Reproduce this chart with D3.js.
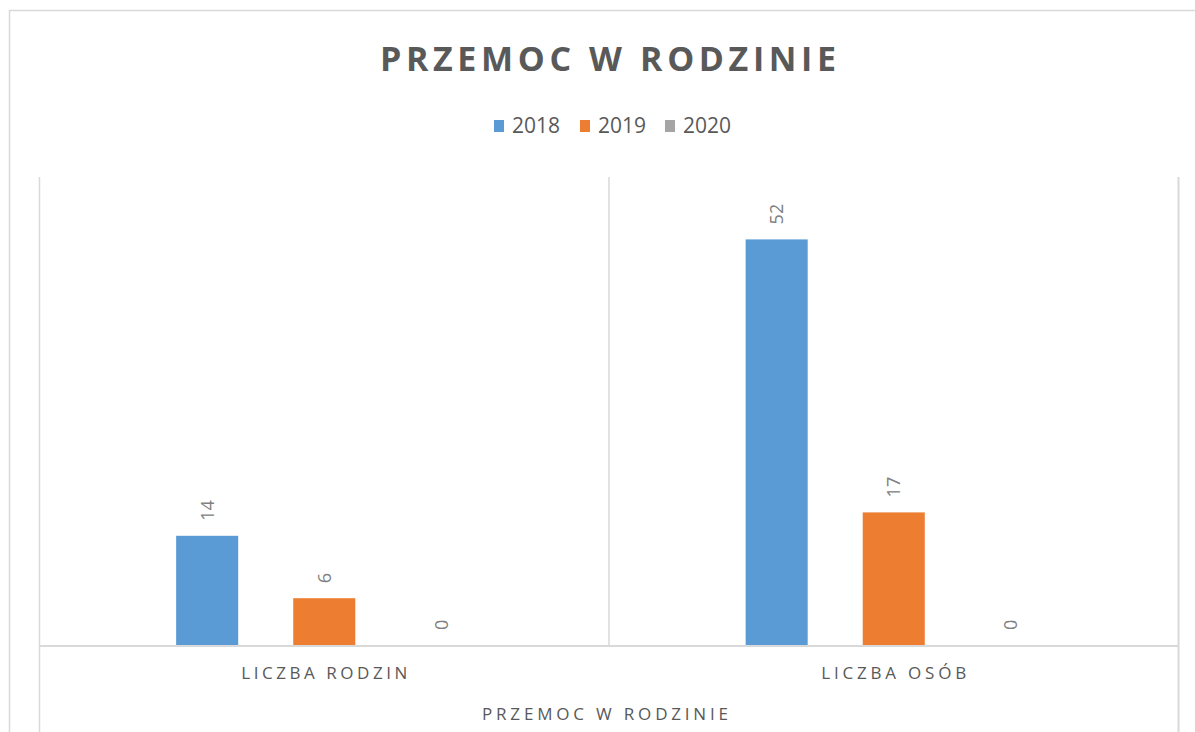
<!DOCTYPE html>
<html>
<head>
<meta charset="utf-8">
<script src="https://cdn.jsdelivr.net/npm/d3@7"></script>
<style>
  html, body { margin: 0; padding: 0; background: #fff; }
  svg { display: block; }
</style>
</head>
<body>
<svg id="chart" width="1195" height="732"></svg>
<script>
const chartTitle = "PRZEMOC W RODZINIE";
const axisTitle = "PRZEMOC W RODZINIE";
const categories = ["LICZBA RODZIN", "LICZBA OSÓB"];
const seriesNames = ["2018", "2019", "2020"];
const seriesColors = ["#5b9bd5", "#ed7d31", "#a5a5a5"];
const values2018 = [14, 52];
const values2019 = [6, 17];
const values2020 = [0, 0];
const seriesValues = [values2018, values2019, values2020];
const yDomain = [0, 60];

const svg = d3.select("#chart");
const W = 1195, H = 732;
svg.append("rect").attr("width", W).attr("height", H).attr("fill", "#fff");

// outer chart border
svg.append("rect")
  .attr("x", 9.5).attr("y", 10.5).attr("width", 1300).attr("height", 900)
  .attr("fill", "none").attr("stroke", "#d9d9d9").attr("stroke-width", 1.5);

const plotLeft = 39.5, plotRight = 1178.5, plotTop = 177, plotBottom = 645;

const x0 = d3.scaleBand().domain(categories).range([plotLeft, plotRight]).paddingInner(0).paddingOuter(0);
const x1 = d3.scaleBand().domain(seriesNames).range([0, x0.bandwidth()])
  .paddingInner(0.47).paddingOuter(1.167);
const y = d3.scaleLinear().domain(yDomain).range([plotBottom, plotTop]);

// category separator lines
const boundaries = categories.map(c => x0(c)).concat([x0(categories[categories.length - 1]) + x0.bandwidth()]);
svg.append("g").selectAll("line").data(boundaries).join("line")
  .attr("x1", d => d).attr("x2", d => d)
  .attr("y1", plotTop)
  .attr("y2", (d, i) => (i === 0 || i === boundaries.length - 1) ? H : plotBottom)
  .attr("stroke", "#d9d9d9")
  .attr("stroke-width", (d, i) => i === boundaries.length - 1 ? 2 : 1.5);

// bars
const rows = [];
categories.forEach((c, ci) => {
  seriesNames.forEach((s, si) => {
    rows.push({ cat: c, series: s, value: seriesValues[si][ci], color: seriesColors[si] });
  });
});

const g = svg.append("g");
g.selectAll("rect.bar").data(rows).join("rect")
  .attr("class", "bar")
  .attr("x", d => x0(d.cat) + x1(d.series))
  .attr("width", x1.bandwidth())
  .attr("y", d => y(d.value))
  .attr("height", d => y(0) - y(d.value))
  .attr("fill", d => d.color);

// baseline
svg.append("line")
  .attr("x1", plotLeft).attr("x2", plotRight)
  .attr("y1", y(0) + 1).attr("y2", y(0) + 1)
  .attr("stroke", "#d9d9d9").attr("stroke-width", 2);

// data labels (rotated)
g.selectAll("text.lbl").data(rows).join("text")
  .attr("class", "lbl")
  .attr("transform", d => {
    const cx = x0(d.cat) + x1(d.series) + x1.bandwidth() / 2;
    const cy = y(d.value) - 15;
    return `translate(${cx},${cy}) rotate(-90)`;
  })
  .attr("dy", "0.36em")
  .attr("text-anchor", "start")
  .attr("font-family", "'Open Sans', sans-serif")
  .attr("font-size", 18)
  .attr("fill", "#808080")
  .text(d => d.value);

// category labels
const catWidths = { "LICZBA RODZIN": 166, "LICZBA OSÓB": 145 };
svg.append("g").selectAll("text").data(categories).join("text")
  .attr("x", d => x0(d) + x0.bandwidth() / 2)
  .attr("y", 679)
  .attr("text-anchor", "middle")
  .attr("font-family", "'Open Sans', sans-serif")
  .attr("font-size", 17)
  .attr("fill", "#595959")
  .attr("textLength", d => catWidths[d])
  .attr("lengthAdjust", "spacing")
  .text(d => d);

// axis title
svg.append("text")
  .attr("x", 605).attr("y", 720)
  .attr("text-anchor", "middle")
  .attr("font-family", "'Open Sans', sans-serif")
  .attr("font-size", 17)
  .attr("fill", "#595959")
  .attr("textLength", 246)
  .attr("lengthAdjust", "spacing")
  .text(axisTitle);

// chart title
svg.append("text")
  .attr("x", 608).attr("y", 71)
  .attr("text-anchor", "middle")
  .attr("font-family", "'Open Sans', sans-serif")
  .attr("font-weight", 700)
  .attr("font-size", 34)
  .attr("fill", "#595959")
  .attr("textLength", 456)
  .attr("lengthAdjust", "spacing")
  .text(chartTitle);

// legend
const legendX = [494, 580, 665];
const lg = svg.append("g").selectAll("g").data(seriesNames).join("g")
  .attr("transform", (d, i) => `translate(${legendX[i]},0)`);
lg.append("rect")
  .attr("x", 0).attr("y", 120).attr("width", 10).attr("height", 12)
  .attr("fill", (d, i) => seriesColors[i]);
lg.append("text")
  .attr("x", 18).attr("y", 133)
  .attr("font-family", "'Open Sans', sans-serif")
  .attr("font-size", 21)
  .attr("fill", "#595959")
  .text(d => d);
</script>
</body>
</html>
